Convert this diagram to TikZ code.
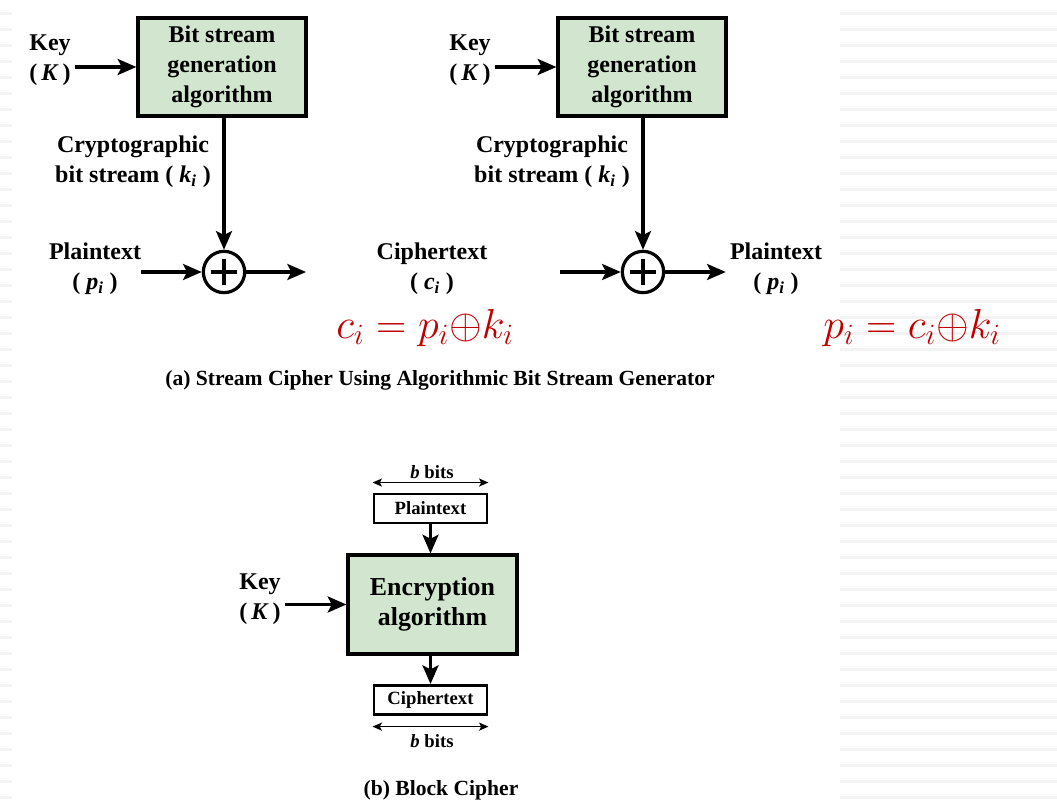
\RequirePackage{fix-cm}
\documentclass[tikz,border=0pt]{standalone}
\usepackage{fontspec}
\setmainfont{Liberation Serif}
\usetikzlibrary{arrows.meta}
\definecolor{boxgreen}{RGB}{210,230,207}
\definecolor{formred}{RGB}{192,0,0}
\definecolor{stripe}{RGB}{243,243,243}
\tikzset{
  gbox/.style={draw=black, fill=boxgreen, line width=2.4pt, align=center, inner sep=0pt},
  wbox/.style={draw=black, fill=white, line width=2.2pt, align=center, inner sep=0pt,
     minimum width=84.75pt, minimum height=21.75pt, font=\fontsize{14}{16}\selectfont\bfseries},
  lbl/.style={align=center, inner sep=0pt, font=\fontsize{18}{22.5}\selectfont\bfseries},
  arr/.style={line width=2.3pt, -{Stealth[length=14pt,width=12pt,inset=3pt]}},
  darr/.style={line width=1.1pt, {Stealth[length=7pt,width=6pt,inset=1.5pt]}-{Stealth[length=7pt,width=6pt,inset=1.5pt]}},
  xor/.style={circle, draw=black, line width=2.4pt, minimum size=31pt, inner sep=0pt,
     path picture={\draw[line width=2.4pt] ([xshift=-9.5pt]path picture bounding box.center) -- ([xshift=9.5pt]path picture bounding box.center);
                   \draw[line width=2.4pt] ([yshift=-9.5pt]path picture bounding box.center) -- ([yshift=9.5pt]path picture bounding box.center);}},
  formula/.style={text=formred, inner sep=0pt, font=\fontsize{31.5}{36}\selectfont},
  caption/.style={inner sep=0pt, font=\fontsize{16.2}{19}\selectfont\bfseries}
}
\begin{document}
\begin{tikzpicture}[x=0.75pt,y=-0.75pt]
\useasboundingbox (0,0) rectangle (1057,809);
\fill[white] (0,0) rectangle (1057,809);
% background stripes
\foreach \s in {0,...,49} {
  \fill[stripe] (840,{13.5+16*\s-1.6}) rectangle (1057,{13.5+16*\s+1.6});
  \fill[stripe] (0,{13.5+16*\s-1.6}) rectangle (12,{13.5+16*\s+1.6});
}

% ---------- (a) stream cipher ----------
\node[gbox, minimum width=126pt, minimum height=73.5pt, font=\fontsize{18}{22.5}\selectfont\bfseries]
  (box1) at (222,67) {Bit stream\\generation\\algorithm};
\node[gbox, minimum width=126pt, minimum height=73.5pt, font=\fontsize{18}{22.5}\selectfont\bfseries]
  (box2) at (642,67) {Bit stream\\generation\\algorithm};

\node[lbl] (key1) at (50,60) {Key\\(\,\textit{K}\,)};
\node[lbl] (key2) at (470,60) {Key\\(\,\textit{K}\,)};

\node[lbl] (cbs1) at (133,162) {Cryptographic\\bit stream ( \textit{k}\textsubscript{\textit{i}} )};
\node[lbl] (cbs2) at (552,162) {Cryptographic\\bit stream ( \textit{k}\textsubscript{\textit{i}} )};

\node[xor] (x1) at (224,272) {};
\node[xor] (x2) at (643,272) {};

\node[lbl] (pt1) at (95,269) {Plaintext\\( \textit{p}\textsubscript{\textit{i}} )};
\node[lbl] (ct) at (432,269) {Ciphertext\\( \textit{c}\textsubscript{\textit{i}} )};
\node[lbl] (pt2) at (776,269) {Plaintext\\( \textit{p}\textsubscript{\textit{i}} )};

\coordinate (out1) at (306,272);
\coordinate (in2) at (560,272);

\draw[arr] ([xshift=3pt]key1.east |- box1.west) -- (box1.west);
\draw[arr] ([xshift=3pt]key2.east |- box2.west) -- (box2.west);
\draw[arr] (box1.south -| x1.north) -- (x1.north);
\draw[arr] (box2.south -| x2.north) -- (x2.north);
\draw[arr] (pt1.east |- x1.west) -- (x1.west);
\draw[arr] (x1.east) -- (out1);
\draw[arr] (in2) -- (x2.west);
\draw[arr] (x2.east) -- ([xshift=-3pt]pt2.west |- x2.east);

\node[formula] (f1) at (425,328) {$c_i = p_i{\oplus}k_i$};
\node[formula] (f2) at (912,328) {$p_i = c_i{\oplus}k_i$};

\node[caption] (capa) at (440,380)
  {(a) Stream Cipher Using Algorithmic Bit Stream Generator};

% ---------- (b) block cipher ----------
\node[wbox] (pbox) at (430.5,508.5) {Plaintext};
\node[gbox, minimum width=126.75pt, minimum height=74.25pt, font=\fontsize{19.4}{23}\selectfont\bfseries]
  (enc) at (432.5,604.5) {Encryption\\algorithm};
\node[wbox] (cbox) at (430.5,700) {Ciphertext};

\node[lbl] (key3) at (260,599) {Key\\(\,\textit{K}\,)};
\draw[arr] ([xshift=3pt]key3.east |- enc.west) -- (enc.west);
\draw[arr] (pbox.south) -- (pbox.south |- enc.north);
\draw[arr] (cbox.north |- enc.south) -- (cbox.north);

\draw[darr] ([yshift=7.5pt]pbox.north west) -- ([yshift=7.5pt]pbox.north east);
\draw[darr] ([yshift=-8pt]cbox.south west) -- ([yshift=-8pt]cbox.south east);
\node[inner sep=0pt, font=\fontsize{14}{16}\selectfont\bfseries] (bb1) at (432,472) {\textit{b} bits};
\node[inner sep=0pt, font=\fontsize{14}{16}\selectfont\bfseries] (bb2) at (432,741) {\textit{b} bits};

\node[caption] (capb) at (441,790) {(b) Block Cipher};
\end{tikzpicture}
\end{document}
